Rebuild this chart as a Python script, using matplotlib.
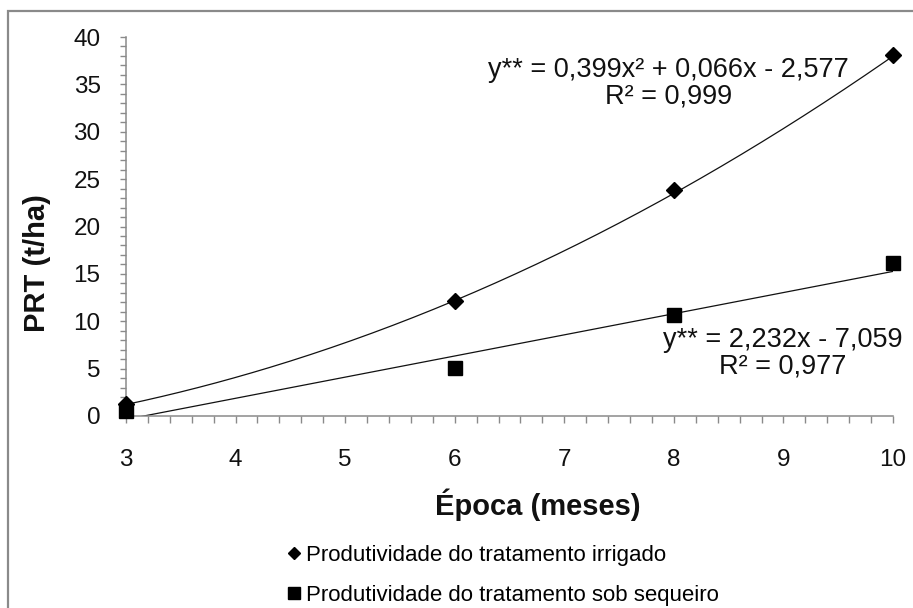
import numpy as np
import matplotlib
matplotlib.use("Agg")
import matplotlib.pyplot as plt
from matplotlib.lines import Line2D
from matplotlib.patches import Rectangle
from matplotlib.ticker import MultipleLocator

plt.rcParams['font.family'] = ['Liberation Sans', 'DejaVu Sans']

# Data
meses = [3, 6, 8, 10]
prt_irrigado = [1.3, 12.1, 23.8, 38.1]
prt_sequeiro = [0.5, 5.1, 10.7, 16.2]

# Fitted trendline coefficients
quad_coef = [0.399, 0.066, -2.577]   # a*x^2 + b*x + c
lin_coef = [2.232, -7.059]           # a*x + b

label_irrigado = "Produtividade do tratamento irrigado"
label_sequeiro = "Produtividade do tratamento sob sequeiro"
eq_irrigado = "y** = 0,399x² + 0,066x - 2,577\nR² = 0,999"
eq_sequeiro = "y** = 2,232x - 7,059\nR² = 0,977"

W, H = 913, 608
fig = plt.figure(figsize=(W / 100, H / 100), dpi=100)
ax = fig.add_axes([126 / W, 1 - 416 / H, (893 - 126) / W, (416 - 37) / H])

# Outer chart frame
fig.add_artist(Rectangle((8 / W, -0.2), 1.2, 1.2 - 11 / H, transform=fig.transFigure,
                         fill=False, edgecolor='#8a8a8a', linewidth=1.6))

xs = np.linspace(3, 10, 300)
ax.plot(xs, np.polyval(quad_coef, xs), color='#111111', lw=0.9, zorder=2)
ax.plot(xs, np.polyval(lin_coef, xs), color='#111111', lw=0.9, zorder=2)

ax.plot(meses, prt_irrigado, ls='none', marker='D', ms=8.5, color='black',
        zorder=4, clip_on=False)
ax.plot(meses, prt_sequeiro, ls='none', marker='s', ms=10, color='black',
        zorder=3, clip_on=False)

ax.set_xlim(3, 10)
ax.set_ylim(0, 40)

for side in ('top', 'right'):
    ax.spines[side].set_visible(False)
for side in ('left', 'bottom'):
    ax.spines[side].set_color('#8a8a8a')
    ax.spines[side].set_linewidth(1.1)

ax.xaxis.set_major_locator(MultipleLocator(1))
ax.xaxis.set_minor_locator(MultipleLocator(0.2))
ax.yaxis.set_major_locator(MultipleLocator(5))
ax.yaxis.set_minor_locator(MultipleLocator(1))
ax.tick_params(axis='x', which='both', direction='out', length=5, width=1,
               color='#8a8a8a', pad=19, labelsize=17.5, labelcolor='#111111')
ax.tick_params(axis='y', which='both', direction='out', length=4.3, width=1,
               color='#8a8a8a', pad=14, labelsize=17.5, labelcolor='#111111')

ax.text(7.95, 35.1, eq_irrigado, ha='center', va='center', fontsize=19.5,
        linespacing=1.05, color='#111111')
ax.text(8.99, 6.6, eq_sequeiro, ha='center', va='center', fontsize=19.5,
        linespacing=1.05, color='#111111')

fig.text(37 / W, 1 - 263 / H, "PRT (t/ha)", rotation=90, ha='center', va='center',
         fontsize=21, fontweight='bold', color='#111111')
fig.text(538 / W, 1 - 505 / H, "Época (meses)", ha='center', va='center',
         fontsize=21, fontweight='bold', color='#111111')

handles = [Line2D([], [], ls='none', marker='D', ms=6, color='black'),
           Line2D([], [], ls='none', marker='s', ms=8, color='black')]
fig.legend(handles, [label_irrigado, label_sequeiro], loc='upper left',
           bbox_to_anchor=(287 / W, 1 - 545 / H), frameon=False, fontsize=16,
           handlelength=0.6, handletextpad=0.25, labelspacing=0.85,
           borderpad=0, borderaxespad=0)

fig.savefig("out.png", dpi=100)
